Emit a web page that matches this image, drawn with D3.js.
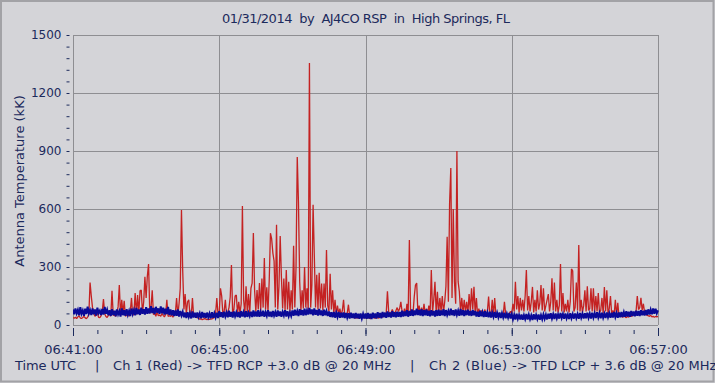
<!DOCTYPE html>
<html><head><meta charset="utf-8">
<script src="https://cdn.jsdelivr.net/npm/d3@7"></script>
<style>
html,body{margin:0;padding:0;background:#d4d4d8;}
svg{display:block;}
text{font-family:"DejaVu Sans",sans-serif;fill:#1c2a5c;}
</style></head>
<body>
<script>
// ---- data (2-second samples, 06:41:00 .. 06:57:00) ----
const sampleSec = 2;
const redCh1 = [
 38,35,40,33,42,48,36,34,39,45,37,33,41,55,220,150,90,60,45,52,62,40,38,47,70,134,58,44,39,50,
 60,45,177,50,52,45,60,95,207,50,130,60,125,45,50,58,45,70,140,50,60,165,55,155,60,177,181,60,120,250,
 140,253,315,60,90,180,55,60,45,70,48,52,45,60,50,42,55,130,45,48,45,52,40,58,62,140,50,110,190,595,
 284,80,160,55,120,130,50,45,140,45,45,40,38,35,30,32,28,30,33,30,28,31,29,30,32,35,40,60,140,55,
 60,190,150,55,70,130,50,65,90,145,310,55,80,150,155,60,120,60,110,615,130,60,200,65,160,60,190,217,476,181,
 70,181,80,217,75,240,90,346,80,195,70,230,475,445,372,330,90,519,80,200,460,250,85,240,75,284,80,224,70,180,
 80,410,90,300,869,632,225,75,180,85,300,90,190,80,1355,90,207,622,357,90,260,80,270,85,215,75,215,90,388,100,
 70,265,80,180,60,130,55,100,60,85,50,75,130,45,50,60,105,48,45,40,42,38,36,40,35,38,42,36,40,38,
 38,35,40,36,33,38,42,37,35,40,38,36,45,40,42,50,48,60,175,70,55,65,80,58,62,75,90,70,85,120,
 70,55,85,50,110,60,440,55,70,60,147,207,217,60,100,55,90,60,110,55,85,60,100,55,284,65,130,224,60,172,
 60,140,70,150,65,120,200,457,120,630,812,140,600,224,110,900,224,172,70,140,65,130,70,120,60,160,70,190,80,198,
 60,140,50,85,55,75,50,65,80,50,70,147,50,55,130,50,140,50,50,60,48,52,58,50,120,55,48,52,60,70,
 60,110,70,224,80,150,65,140,75,130,70,150,284,75,150,70,120,197,65,130,70,180,80,110,207,75,190,70,100,130,
 160,70,120,242,75,220,70,130,65,100,315,70,165,65,110,70,130,65,120,290,280,70,90,220,75,414,70,130,65,100,
 180,70,200,75,85,190,70,190,65,150,70,165,65,75,140,60,197,70,180,60,85,150,55,75,50,130,50,115,45,45,
 45,40,48,42,38,45,40,50,44,48,55,60,70,150,80,90,140,75,110,65,55,50,48,45,50,42,45,40,44,42,45
];
const blueCh2 = [
 80,55,86,60,78,50,92,58,75,48,84,57,95,60,77,52,86,55,80,49,90,62,74,52,83,54,93,58,79,51,
 76,47,82,52,74,45,80,55,72,44,86,51,77,48,82,53,73,46,85,57,78,50,88,55,80,52,90,58,82,54,
 92,58,85,60,98,62,88,56,94,64,86,58,96,60,90,54,84,57,93,52,80,50,77,46,75,48,80,44,72,49,
 68,40,64,36,66,42,61,34,70,39,63,37,65,41,60,35,67,38,62,36,64,40,59,34,66,37,61,39,63,36,
 72,42,66,38,69,44,64,40,74,43,67,39,70,45,65,41,68,38,72,44,66,40,71,42,64,46,69,41,75,44,
 70,44,77,42,68,46,74,43,66,47,76,44,69,41,73,48,67,43,75,46,70,42,68,49,77,44,71,45,66,47,
 75,48,79,50,72,46,82,52,77,49,84,51,76,54,88,56,80,50,86,53,78,49,83,51,75,47,79,50,72,46,
 70,42,66,40,68,38,64,41,67,37,63,39,65,36,62,38,61,34,64,36,59,33,62,35,58,32,60,34,57,33,
 59,32,62,34,58,31,64,36,60,33,66,38,62,35,68,40,64,37,70,41,65,39,72,42,66,40,69,43,67,41,
 74,44,70,46,77,43,72,48,80,47,75,51,84,52,78,49,82,46,76,50,80,48,74,45,77,49,73,44,76,47,
 79,48,75,50,82,46,77,52,73,49,84,51,76,47,80,53,74,48,83,50,77,46,75,51,79,49,73,47,78,50,
 72,44,69,42,74,45,67,41,71,43,65,40,69,39,64,42,67,37,63,40,65,36,61,39,63,35,59,38,62,34,
 56,30,53,28,58,32,52,29,55,27,51,31,57,28,53,30,50,26,56,29,52,31,54,27,51,30,55,32,53,29,
 58,32,61,34,56,31,60,35,55,33,62,36,57,32,59,34,54,31,61,35,56,33,60,36,57,32,62,37,58,34,
 61,35,64,37,59,34,63,38,60,36,66,39,61,35,64,38,59,36,65,40,61,37,63,39,67,41,62,38,65,40,
 68,41,66,43,71,44,69,42,72,46,70,45,74,48,72,47,76,50,74,49,78,52,81,54,79,56,86,58,84,60,76
];
const xTickSec = [0, 240, 480, 720, 960];
const xTickLabels = ["06:41:00", "06:45:00", "06:49:00", "06:53:00", "06:57:00"];
const yTickValues = [0, 300, 600, 900, 1200, 1500];
const titleText = "01/31/2014  by  AJ4CO RSP  in  High Springs, FL";
const yLabelText = "Antenna Temperature (kK)";
const footerParts = ["Time UTC", "|", "Ch 1 (Red) -> TFD RCP +3.0 dB @ 20 MHz", "|", "Ch 2 (Blue)", "-> TFD LCP + 3.6 dB @ 20 MHz"];

// ---- layout ----
const W = 715, H = 383;
const L = 73, R = 658, T = 35, B = 325;
const svg = d3.select("body").append("svg").attr("width", W).attr("height", H);
svg.append("rect").attr("x",0).attr("y",0).attr("width",W).attr("height",H).attr("fill","#d4d4d8");
svg.append("rect").attr("x",1).attr("y",1).attr("width",W-2.5).attr("height",H-2.5)
  .attr("fill","none").attr("stroke","#a2a2a6").attr("stroke-width",2);

const x = d3.scaleLinear().domain([0, 960]).range([L, R]);
const y = d3.scaleLinear().domain([0, 1500]).range([B, T]);
const gridColor = "#8e8e92";

// grid
const g = svg.append("g");
g.selectAll("line.hg").data(yTickValues).join("line")
  .attr("x1", L).attr("x2", R).attr("y1", d => Math.round(y(d)) + 0.5).attr("y2", d => Math.round(y(d)) + 0.5)
  .attr("stroke", gridColor).attr("stroke-width", 1);
g.selectAll("line.vg").data(xTickSec).join("line")
  .attr("y1", T).attr("y2", B).attr("x1", d => Math.round(x(d)) + 0.5).attr("x2", d => Math.round(x(d)) + 0.5)
  .attr("stroke", gridColor).attr("stroke-width", 1);

// clip
svg.append("clipPath").attr("id","plotclip").append("rect")
  .attr("x", L).attr("y", T).attr("width", R - L + 1).attr("height", B - T);

const line = d3.line().x((d, i) => x(i * sampleSec)).y(d => y(d));
const plot = svg.append("g").attr("clip-path", "url(#plotclip)");
plot.append("path").datum(redCh1).attr("d", line)
  .attr("fill","none").attr("stroke","#c42222").attr("stroke-width",1.3).attr("stroke-linejoin","bevel");
plot.append("path").datum(blueCh2).attr("d", line)
  .attr("fill","none").attr("stroke","#0a0a98").attr("stroke-width",2);

// y axis (ticks every 60, labels every 300)
const yAxis = d3.axisLeft(y).tickValues(d3.range(0, 1501, 60)).tickSize(3).tickPadding(5)
  .tickFormat(d => d % 300 === 0 ? d : "");
const ya = svg.append("g").attr("transform", "translate(69.5,0)").call(yAxis);
ya.select(".domain").remove();
ya.selectAll(".tick line").attr("stroke", "#1c2a5c");
ya.selectAll(".tick text").attr("font-size", 12).attr("font-family", "DejaVu Sans").attr("fill", "#1c2a5c");

// x axis minor + major ticks
const xMinor = d3.axisBottom(x).tickValues(d3.range(0, 961, 40)).tickSize(4).tickFormat("");
const xm = svg.append("g").attr("transform", "translate(0,330)").call(xMinor);
xm.select(".domain").remove();
xm.selectAll(".tick line").attr("stroke", "#1c2a5c");
const xMajor = d3.axisBottom(x).tickValues(xTickSec).tickSize(8).tickPadding(9)
  .tickFormat((d, i) => xTickLabels[i]);
const xa = svg.append("g").attr("transform", "translate(0,328)").call(xMajor);
xa.select(".domain").remove();
xa.selectAll(".tick line").attr("stroke", "#1c2a5c");
xa.selectAll(".tick text").attr("font-size", 13).attr("font-family", "DejaVu Sans").attr("fill", "#1c2a5c");

// title
svg.append("text").attr("x", 366).attr("y", 23).attr("text-anchor", "middle")
  .attr("font-family", "Liberation Sans, Arial, sans-serif").attr("font-size", 13)
  .attr("textLength", 288).attr("lengthAdjust", "spacing")
  .style("white-space", "pre").text(titleText);

// y label
svg.append("text").attr("transform", "translate(24,181) rotate(-90)").attr("text-anchor", "middle")
  .attr("font-size", 13).text(yLabelText);

// footer
const footerX = [15, 95, 113, 410, 429, 512];
const footerLen = [61, null, 278, null, 78, null];
footerParts.forEach((s, i) => {
  const t = svg.append("text").attr("x", footerX[i]).attr("y", 369.5).attr("font-size", 13).text(s);
  if (footerLen[i]) t.attr("textLength", footerLen[i]).attr("lengthAdjust", "spacing");
});
</script>
</body></html>
